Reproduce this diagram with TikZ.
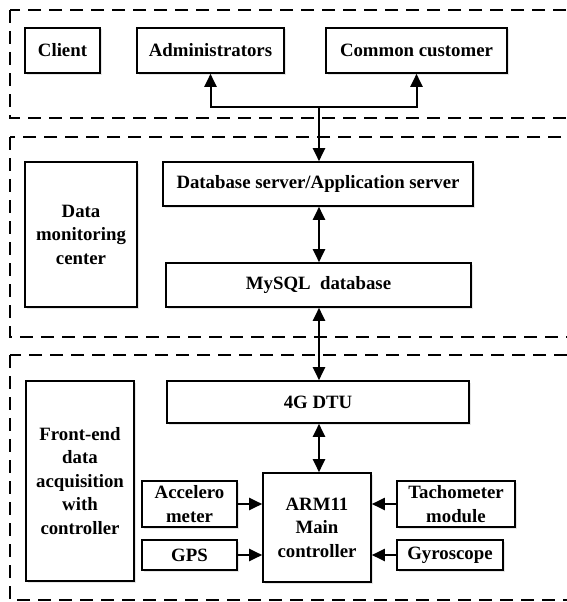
\documentclass[tikz,border=0pt]{standalone}
\usepackage{fontspec}
\setmainfont{Liberation Serif}
\usetikzlibrary{arrows.meta,shadows}
\begin{document}
\begin{tikzpicture}[x=1pt,y=-1pt,
  box/.style={draw, line width=1.6pt, fill=white, align=center, inner sep=0pt,
    drop shadow={opacity=0.2, shadow xshift=1.5pt, shadow yshift=-1.5pt},
    font=\bfseries\fontsize{18.8}{23.5}\selectfont},
  panel/.style={draw, line width=2pt, dash pattern=on 13pt off 8pt},
  conn/.style={line width=2pt},
  tip/.style={-{Triangle[length=13pt,width=12pt]}},
  both/.style={{Triangle[length=13pt,width=12pt]}-{Triangle[length=13pt,width=12pt]}}]
\clip (0,0) rectangle (567,602);
% panels
\draw[panel] (10,10) rectangle (600,118);
\draw[panel] (10,137) rectangle (600,337);
\draw[panel] (10,355) rectangle (600,600);
% top panel
\node[box, minimum width=75pt, minimum height=45pt] (client) at (62.5,50.5) {Client};
\node[box, minimum width=147pt, minimum height=45pt] (admin) at (210.5,50.5) {Administrators};
\node[box, minimum width=181pt, minimum height=45pt] (common) at (416.5,50.5) {Common customer};
% middle panel
\node[box, minimum width=112pt, minimum height=145pt] (dmc) at (81,234.5) {Data\\monitoring\\center};
\node[box, minimum width=310pt, minimum height=44pt] (dbs) at (318,184) {Database server/Application server};
\node[box, minimum width=305pt, minimum height=44pt] (mysql) at (318.5,285) {MySQL\ \ database};
% bottom panel
\node[box, minimum width=108pt, minimum height=200pt] (fe) at (80,481) {Front-end\\data\\acquisition\\with\\controller};
\node[box, minimum width=302pt, minimum height=42pt] (dtu) at (318,402) {4G DTU};
\node[box, minimum width=108pt, minimum height=109pt] (arm) at (317,527.5) {ARM11\\Main\\controller};
\node[box, minimum width=95pt, minimum height=46pt] (acc) at (189.5,504) {Accelero\\meter};
\node[box, minimum width=95pt, minimum height=30pt] (gps) at (189.5,555) {GPS};
\node[box, minimum width=118pt, minimum height=46pt] (tach) at (456,504) {Tachometer\\module};
\node[box, minimum width=106pt, minimum height=30pt] (gyro) at (450,555) {Gyroscope};
% connectors
\coordinate (j) at (319,107);
\draw[conn, tip] (j) -| (admin.south);
\draw[conn, tip] (j) -| (common.south);
\draw[conn, tip] (j) -- (dbs.north -| j);
\draw[conn, both] (dbs.south -| j) -- (mysql.north -| j);
\draw[conn, both] (mysql.south -| j) -- (dtu.north -| j);
\draw[conn, both] (dtu.south -| j) -- (arm.north -| j);
\draw[conn, tip] (acc.east) -- (acc.east -| arm.west);
\draw[conn, tip] (gps.east) -- (gps.east -| arm.west);
\draw[conn, tip] (tach.west) -- (tach.west -| arm.east);
\draw[conn, tip] (gyro.west) -- (gyro.west -| arm.east);
\end{tikzpicture}
\end{document}
